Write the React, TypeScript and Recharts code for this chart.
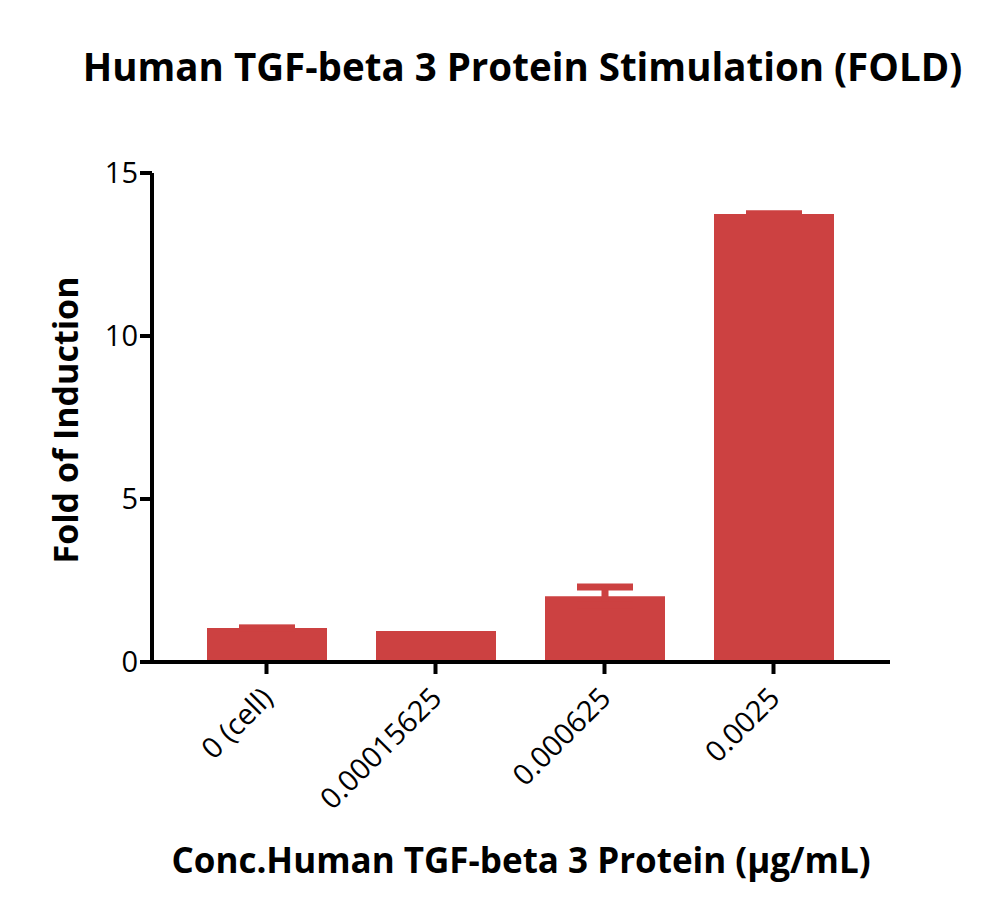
import React from "react";
import { BarChart, Bar, XAxis, YAxis, ErrorBar } from "recharts";

const categories = ["0 (cell)", "0.00015625", "0.000625", "0.0025"];
const foldValues = [1.04, 0.95, 2.02, 13.74];
const foldErrors = [0.005, 0, 0.28, 0.01];
const yTicks = [0, 5, 10, 15];

const data = categories.map((c, i) => ({ name: c, fold: foldValues[i], err: foldErrors[i] }));

const FONT = "'Open Sans', sans-serif";
const RED = "#cc4141";

const XTick = (props: any) => {
  const { x, y, payload } = props;
  return (
    <g transform={`translate(${x + 8},${y + 24})`}>
      <text
        x={0}
        y={0}
        textAnchor="end"
        transform="rotate(-45)"
        fontFamily={FONT}
        fontSize={29}
        fill="#000"
      >
        {payload.value}
      </text>
    </g>
  );
};

export default function App() {
  return (
    <div style={{ position: "absolute", left: 0, top: 0, width: 1000, height: 916, background: "#fff" }}>
      <div
        style={{
          position: "absolute",
          left: 0,
          width: 1000,
          top: 38,
          textAlign: "center",
          paddingLeft: 45,
          boxSizing: "border-box",
          fontFamily: FONT,
          fontWeight: 700,
          fontSize: 38.5,
          lineHeight: "56px",
          color: "#000",
        }}
      >
        Human TGF-beta 3 Protein Stimulation (FOLD)
      </div>
      <BarChart
        width={1000}
        height={916}
        data={data}
        margin={{ top: 173, right: 110, bottom: 0, left: 0 }}
        barSize={120}
      >
        <XAxis
          dataKey="name"
          padding={{ left: 30, right: 32 }}
          axisLine={{ stroke: "#000", strokeWidth: 4 }}
          tickLine={{ stroke: "#000", strokeWidth: 4 }}
          tickSize={12}
          tick={<XTick />}
          interval={0}
          height={254}
        />
        <YAxis
          width={152}
          domain={[0, 15]}
          ticks={yTicks}
          axisLine={{ stroke: "#000", strokeWidth: 4 }}
          tickLine={{ stroke: "#000", strokeWidth: 4 }}
          tickSize={12}
          tick={{ fill: "#000", fontFamily: FONT, fontSize: 29 }}
        />
        <Bar dataKey="fold" fill={RED} isAnimationActive={false}>
          <ErrorBar dataKey="err" stroke={RED} strokeWidth={7} width={28} direction="y" />
        </Bar>
      </BarChart>
      <div
        style={{
          position: "absolute",
          left: 65,
          top: 420,
          transform: "translate(-50%, -50%) rotate(-90deg)",
          whiteSpace: "nowrap",
          fontFamily: FONT,
          fontWeight: 700,
          fontSize: 34,
          lineHeight: "40px",
          color: "#000",
        }}
      >
        Fold of Induction
      </div>
      <div
        style={{
          position: "absolute",
          left: 0,
          width: 1000,
          top: 836,
          paddingLeft: 42,
          boxSizing: "border-box",
          textAlign: "center",
          fontFamily: FONT,
          fontWeight: 700,
          fontSize: 35,
          lineHeight: "48px",
          color: "#000",
        }}
      >
        Conc.Human TGF-beta 3 Protein (μg/mL)
      </div>
    </div>
  );
}
